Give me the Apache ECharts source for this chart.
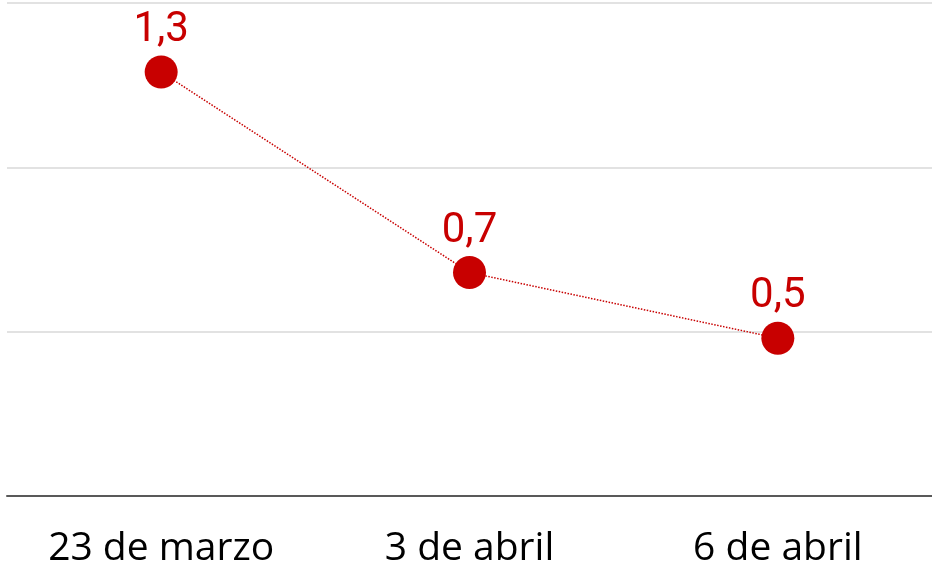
<!DOCTYPE html>
<html>
<head>
<meta charset="utf-8">
<script src="https://cdn.jsdelivr.net/npm/echarts@6/dist/echarts.min.js"></script>
<style>html,body{margin:0;padding:0;background:#fff}#c{width:932px;height:563px}</style>
</head>
<body>
<div id="c"></div>
<script>
const categories = ["23 de marzo", "3 de abril", "6 de abril"];
const values = [1.29, 0.68, 0.48];
const yTicks = { min: 0, max: 1.5, interval: 0.5 };

const chart = echarts.init(document.getElementById('c'), null, { renderer: 'canvas' });
chart.setOption({
  animation: false,
  backgroundColor: '#ffffff',
  grid: { left: 7, right: 0, top: 3, bottom: 67, containLabel: false, outerBoundsMode: 'none' },
  xAxis: {
    type: 'category',
    data: categories,
    boundaryGap: true,
    axisTick: { show: false },
    axisLine: { lineStyle: { color: '#595959', width: 2 } },
    axisLabel: { color: '#000000', fontFamily: 'Open Sans', fontSize: 39, margin: 33 }
  },
  yAxis: {
    type: 'value',
    min: yTicks.min, max: yTicks.max, interval: yTicks.interval,
    axisLabel: { show: false },
    axisLine: { show: false },
    axisTick: { show: false },
    splitLine: { lineStyle: { color: '#d9d9d9', width: 1.5 } }
  },
  series: [{
    type: 'line',
    data: values,
    symbol: 'circle',
    symbolSize: 33,
    itemStyle: { color: '#C80000' },
    lineStyle: { color: '#C80000', width: 1.5, type: 'dotted' },
    label: {
      show: true,
      position: 'top',
      distance: 4,
      color: '#C80000',
      fontFamily: 'Roboto',
      fontSize: 42,
      formatter: p => p.value.toFixed(1).replace('.', ',')
    }
  }]
});
</script>
</body>
</html>
